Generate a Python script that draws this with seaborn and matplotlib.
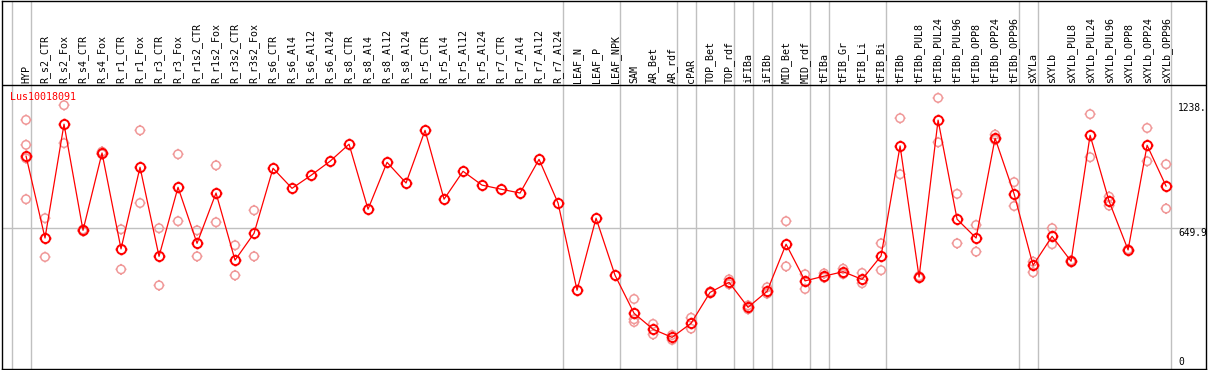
import numpy as np
import pandas as pd
import matplotlib
matplotlib.use('Agg')
import matplotlib.pyplot as plt
from matplotlib.path import Path
import seaborn as sns

# sample names, in plotting order
samples = ['HYP',
           'R_s2_CTR', 'R_s2_Fox', 'R_s4_CTR', 'R_s4_Fox', 'R_r1_CTR', 'R_r1_Fox',
           'R_r3_CTR', 'R_r3_Fox', 'R_r1s2_CTR', 'R_r1s2_Fox', 'R_r3s2_CTR', 'R_r3s2_Fox',
           'R_s6_CTR', 'R_s6_Al4', 'R_s6_Al12', 'R_s6_Al24',
           'R_s8_CTR', 'R_s8_Al4', 'R_s8_Al12', 'R_s8_Al24',
           'R_r5_CTR', 'R_r5_Al4', 'R_r5_Al12', 'R_r5_Al24',
           'R_r7_CTR', 'R_r7_Al4', 'R_r7_Al12', 'R_r7_Al24',
           'LEAF_N', 'LEAF_P', 'LEAF_NPK',
           'SAM', 'AR_Bet', 'AR_rdf', 'cPAR', 'TOP_Bet', 'TOP_rdf',
           'iFIBa', 'iFIBb', 'MID_Bet', 'MID_rdf',
           'tFIBa', 'tFIB_Gr', 'tFIB_Li', 'tFIB_Bi',
           'tFIBb', 'tFIBb_PUL8', 'tFIBb_PUL24', 'tFIBb_PUL96',
           'tFIBb_OPP8', 'tFIBb_OPP24', 'tFIBb_OPP96',
           'sXYLa', 'sXYLb', 'sXYLb_PUL8', 'sXYLb_PUL24', 'sXYLb_PUL96',
           'sXYLb_OPP8', 'sXYLb_OPP24', 'sXYLb_OPP96']

# number of samples in each tissue group (gray separators)
group_sizes = [1, 28, 3, 3, 1, 2, 1, 1, 2, 1, 3, 7, 1, 7]

# mean expression
means = [990, 605, 1139, 641, 1004, 554, 937, 519, 843, 580, 816, 501, 627,
         932, 838, 899, 965, 1045, 740, 960, 863, 1110, 787, 918, 853,
         834, 816, 974, 769,
         360, 698, 430,
         252, 177, 139, 205, 350, 397,
         280, 355, 576, 404,
         426, 447, 411, 521,
         1037, 422, 1158, 693, 605, 1073, 812,
         477, 613, 496, 1087, 777, 549, 1040, 848]

# replicate values
reps = [[1159, 1042, 979, 787], [698, 516], [1228, 1050], [645, 637], [1010, 998],
        [646, 458], [1110, 769], [651, 383], [998, 684], [641, 519], [946, 679],
        [571, 430], [735, 519],
        [], [], [], [], [], [], [], [], [], [], [], [], [], [], [], [],
        [], [], [],
        [319, 224, 211], [202, 153], [150, 127], [231, 180], [353, 347], [411, 388],
        [289, 271], [374, 344], [684, 472], [435, 366],
        [439, 419], [461, 436], [441, 393], [580, 454],
        [1167, 904], [426, 418], [1262, 1054], [812, 580], [666, 541], [1090, 1065], [867, 755],
        [494, 444], [651, 576], [500, 492], [1186, 984], [799, 757], [552, 546],
        [1121, 965], [951, 743]]

gene = 'Lus10018091'
y_ticks = [1238, 649.9, 0]
y_tick_labels = ['1238.', '649.9', '0']

df_mean = pd.DataFrame({'pos': np.arange(len(samples)), 'value': means})
df_rep = pd.DataFrame([(i, v) for i, r in enumerate(reps) for v in r],
                      columns=['pos', 'value'])

# circle with four little ticks, like the original marker
circ = Path.unit_circle()
ticks = Path([(1, 0), (1.3, 0), (-1, 0), (-1.3, 0),
              (0, 1), (0, 1.3), (0, -1), (0, -1.3)],
             [Path.MOVETO, Path.LINETO] * 4)
tick_circle = Path.make_compound_path(circ, ticks)

sns.set_style('white')
plt.rcParams['font.family'] = ['DejaVu Sans Mono']

fig = plt.figure(figsize=(12.09, 3.70), dpi=100)
ax = fig.add_axes([1.5 / 1209, 1 / 370, 1204.5 / 1209, 368.5 / 370])

data_top = 1323
ax.set_xlim(-1.29, 62.1)
ax.set_ylim(-9.4, 1719)

# separators
edges = np.concatenate([[-1], np.cumsum(group_sizes) - 1]) + 0.25
for e in edges:
    ax.axvline(e, color='#c0c0c0', lw=1, zorder=0)
ax.axhline(649.9, color='#c0c0c0', lw=1, zorder=0)
ax.axhline(data_top, color='black', lw=1, zorder=1)

sns.scatterplot(data=df_rep, x='pos', y='value', ax=ax, marker=tick_circle, s=62,
                facecolor='none', edgecolor='#f09898', linewidth=1.1, zorder=2)
sns.lineplot(data=df_mean, x='pos', y='value', ax=ax, color='red', lw=0.9,
             marker=tick_circle, markersize=8.5, markerfacecolor='none',
             markeredgecolor='red', markeredgewidth=1.4, zorder=3)

for i, name in enumerate(samples):
    ax.text(i, data_top + 8, name, rotation=90, ha='center', va='bottom',
            fontsize=7.2, color='black')

ax.text(-0.85, 1267, gene, color='red', fontsize=7.2, va='center', ha='left')

for v, lab in zip(y_ticks, y_tick_labels):
    ax.text(60.62, v, lab, fontsize=6.9, ha='left',
            va='bottom' if v == 0 else 'top', color='black')

ax.set_xticks([])
ax.set_yticks([])
ax.set_xlabel('')
ax.set_ylabel('')
for s in ax.spines.values():
    s.set_visible(True)
    s.set_color('black')
    s.set_linewidth(1)

fig.savefig('out.png', dpi=100)
